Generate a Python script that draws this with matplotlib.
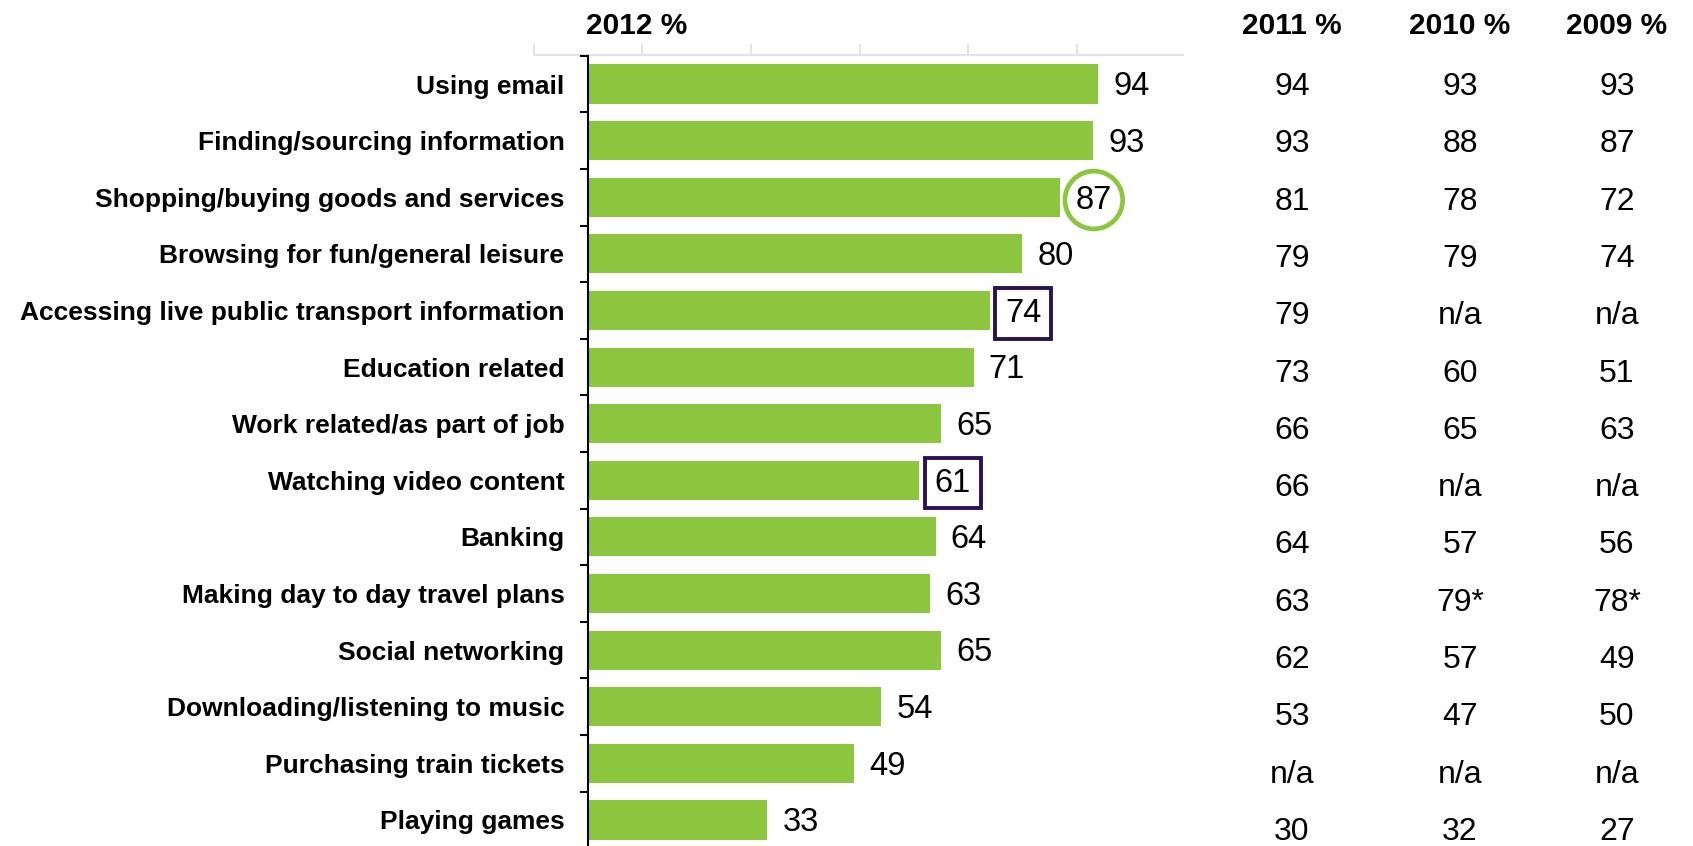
import matplotlib
matplotlib.use("Agg")
import matplotlib.pyplot as plt
import matplotlib.transforms as mtransforms

plt.rcParams['font.family'] = ['Liberation Sans', 'DejaVu Sans']

# ---- data ----
activities = [
    "Using email",
    "Finding/sourcing information",
    "Shopping/buying goods and services",
    "Browsing for fun/general leisure",
    "Accessing live public transport information",
    "Education related",
    "Work related/as part of job",
    "Watching video content",
    "Banking",
    "Making day to day travel plans",
    "Social networking",
    "Downloading/listening to music",
    "Purchasing train tickets",
    "Playing games",
]
share_2012 = [94, 93, 87, 80, 74, 71, 65, 61, 64, 63, 65, 54, 49, 33]
share_2011 = ["94", "93", "81", "79", "79", "73", "66", "66", "64", "63", "62", "53", "n/a", "30"]
share_2010 = ["93", "88", "78", "79", "n/a", "60", "65", "n/a", "57", "79*", "57", "47", "n/a", "32"]
share_2009 = ["93", "87", "72", "74", "n/a", "51", "63", "n/a", "56", "78*", "49", "50", "n/a", "27"]
column_headers = ["2012 %", "2011 %", "2010 %", "2009 %"]
circled = ["Shopping/buying goods and services"]
boxed = ["Accessing live public transport information", "Watching video content"]

# ---- styling ----
GREEN = "#8cc63f"
PURPLE = "#2b1258"
W, H = 1693, 846

fig = plt.figure(figsize=(W / 100, H / 100), dpi=100)
ax_left = 588 / W
ax_width = 597.3 / W
ax_bottom = 1 - 848.3 / H
ax_height = 792.6 / H
ax = fig.add_axes([ax_left, ax_bottom, ax_width, ax_height])

n = len(activities)
ypos = list(range(n))
ax.barh(ypos, share_2012, height=0.69, color=GREEN, zorder=2)
ax.set_xlim(0, 110)
ax.set_ylim(n - 0.5, -0.5)

# category labels at row centres, small ticks at row boundaries
ax.set_yticks(ypos)
ax.set_yticklabels(activities, fontsize=19, fontweight="bold")
ax.tick_params(axis="y", which="major", length=0, pad=17)
ax.set_yticks([i - 0.5 for i in range(n + 1)], minor=True)
ax.tick_params(axis="y", which="minor", length=6, width=1.5, direction="out", color="black")
ax.set_xticks([])
for side in ["top", "right", "bottom"]:
    ax.spines[side].set_visible(False)
ax.spines["left"].set_linewidth(1.5)

# value labels at bar ends
for i, (name, v) in enumerate(zip(activities, share_2012)):
    kw = {}
    if name in circled:
        kw["bbox"] = dict(boxstyle="circle,pad=0.33", fc="white", ec=GREEN, lw=3.4)
    elif name in boxed:
        kw["bbox"] = dict(boxstyle="square,pad=0.3", fc="white", ec=PURPLE, lw=2.8)
    ax.annotate(str(v), xy=(v, i), xytext=(11, -2), textcoords="offset points",
                ha="left", va="center", fontsize=23.5, color="black",
                annotation_clip=False, zorder=3, **kw)

# light top rule with tick marks, on the data scale
blend = mtransforms.blended_transform_factory(ax.transData, fig.transFigure)
rule_y = 1 - 55 / H
tick_top = 1 - 45 / H
ax.plot([-10, 109.5], [rule_y, rule_y], transform=blend, color="#e4e4e4", lw=1.6,
        clip_on=False, zorder=1)
for t in [-10, 10, 30, 50, 70, 90]:
    ax.plot([t, t], [rule_y, tick_top], transform=blend, color="#e4e4e4", lw=1.4,
            clip_on=False, zorder=1)

# column headers
header_x = [637, 1292, 1460, 1617]
for hx, label in zip(header_x, column_headers):
    fig.text(hx / W, 1 - 26 / H, label, ha="center", va="center",
             fontsize=21.5, fontweight="bold")

# earlier-year columns
for col, hx in zip([share_2011, share_2010, share_2009], header_x[1:]):
    for i, val in enumerate(col):
        fy = 87 + i * 57.3
        fig.text(hx / W, 1 - fy / H, val, ha="center", va="center", fontsize=23)

fig.savefig("out.png", dpi=100)
